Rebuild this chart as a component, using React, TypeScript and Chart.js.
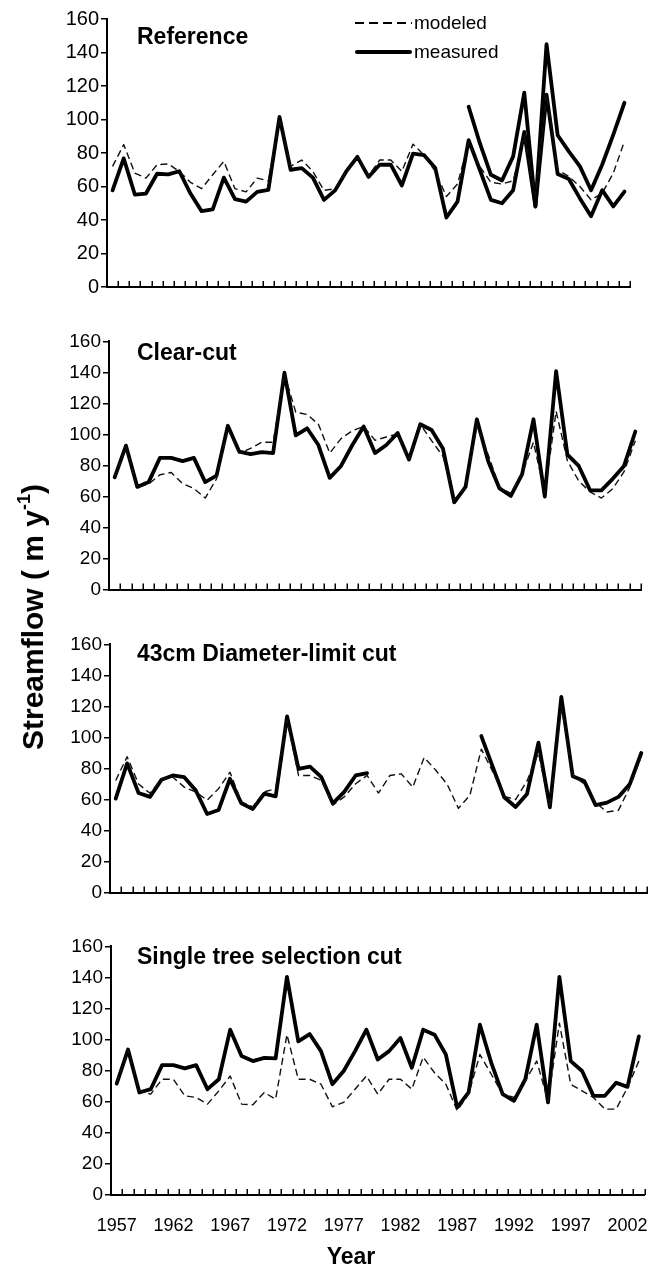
import React, { useEffect, useRef } from "react";
import { Chart, registerables } from "chart.js";

Chart.register(...registerables);

const years = [
  "1957", "1958", "1959", "1960", "1961", "1962", "1963", "1964", "1965", "1966",
  "1967", "1968", "1969", "1970", "1971", "1972", "1973", "1974", "1975", "1976",
  "1977", "1978", "1979", "1980", "1981", "1982", "1983", "1984", "1985", "1986",
  "1987", "1988", "1989", "1990", "1991", "1992", "1993", "1994", "1995", "1996",
  "1997", "1998", "1999", "2000", "2001", "2002", "2003",
];
const labeledYears = ["1957", "1962", "1967", "1972", "1977", "1982", "1987", "1992", "1997", "2002"];
const yTicks = [0, 20, 40, 60, 80, 100, 120, 140, 160];

const refModeled = [72, 85, 68, 65, 73, 73.5, 69, 62.5, 58.7, 67, 75, 58.7, 56.8, 65, 63.4, 100.6, 72, 75.8, 69, 57.7, 58.7, 69, 77.7, 66.3, 75.8, 75.8, 69, 85.3, 78.7, 69, 54, 61.5, 86.3, 72, 62.5, 61.5, 63.4, 90, 55, 115, 70, 66, 60, 52, 56, 68, 87];
const refMeasured = [57.7, 76.8, 55.2, 55.8, 67.6, 67.2, 69.1, 55.8, 45.3, 46.3, 65.3, 52.4, 51, 56.8, 58, 101.5, 70, 71, 65.3, 52, 57.7, 69, 77.7, 65.7, 73, 73, 60.6, 79.6, 78.7, 71, 41.5, 51, 87.7, 70, 52, 50, 57.8, 92.6, 48.1, 114.8, 67.4, 64.5, 52.9, 42.3, 57.8, 48.1, 57];
const refMeasuredB = [null, null, null, null, null, null, null, null, null, null, null, null, null, null, null, null, null, null, null, null, null, null, null, null, null, null, null, null, null, null, null, null, 107.6, 86, 67, 63.6, 78, 116, 48, 145, 90.6, 81, 72, 57.8, 73, 91, 110];

const ccModeled = [72, 92, 66, 68, 74, 75.5, 68.3, 65.2, 59, 71.4, 104, 88, 91, 95, 95, 139, 114.3, 112.9, 106.6, 88, 97.3, 102.5, 105.2, 96.3, 98.4, 100.4, 83.8, 106.6, 96, 86, 58, 66, 105.6, 87, 66, 62, 74.5, 95, 62, 115, 83, 70, 63, 59, 65, 76, 96];
const ccMeasured = [72.4, 92.8, 66.2, 69.3, 84.9, 84.9, 82.8, 84.9, 69.3, 73.5, 105.6, 89, 87.4, 88.6, 88, 139.8, 99.4, 104, 93.2, 72, 79.7, 93.2, 105.2, 88, 93.2, 101, 83.8, 106.6, 102.9, 91, 56.3, 66.2, 109.8, 82.8, 65.2, 60.4, 74.5, 109.8, 60, 140.8, 87, 79.7, 64, 64, 71.4, 79.7, 101.9];

const dlModeled = [72.3, 87.6, 70, 64, 73.4, 74.4, 68, 64.9, 59.6, 67, 77.6, 58.5, 55.3, 64.9, 67, 111.5, 75.5, 75.5, 72.3, 56.4, 61.7, 70.2, 75.5, 64.2, 75.5, 76.5, 68, 87.1, 79, 70, 54.3, 62.8, 92.5, 78, 62, 60, 72, 90, 55, 120, 76, 70, 58, 52, 53, 68, 88];
const dlMeasured = [60.6, 83.3, 64.2, 61.7, 72.7, 75.5, 74.4, 66, 50.7, 53.2, 73.4, 57.5, 53.9, 63.8, 62, 113.6, 79.7, 81.2, 74.4, 57.5, 64.9, 75.5, 77, null, null, null, null, null, null, null, null, null, 100.9, 81, 61.5, 55.2, 63.6, 96.7, 55, 126.2, 75, 72, 56.4, 58, 61.7, 70, 90];

const stModeled = [71.7, 93.6, 67, 64.9, 74.5, 74.5, 63.8, 62.8, 58.5, 67, 76.6, 58.5, 58.1, 66, 61.7, 103.2, 74.5, 74.5, 71.3, 56.8, 59.6, 68.1, 76.6, 64.9, 74.5, 74.5, 68.1, 88.7, 78.7, 71.3, 54.3, 64.9, 90.4, 77.7, 64.9, 62.8, 73.4, 86.2, 60.6, 110.6, 71.3, 67, 62.8, 55.3, 55.3, 69.1, 86.2];
const stMeasured = [71.7, 93.6, 66, 68.1, 83.6, 83.6, 81.5, 83.6, 68.1, 74.5, 106.4, 89.4, 86.2, 88.3, 87.9, 140.4, 98.9, 103.6, 92.6, 71.3, 79.8, 92.6, 106.4, 87.2, 92.6, 101, 81.9, 106.4, 103.2, 90.4, 56.4, 66, 109.6, 85.1, 64.9, 60.6, 74.5, 109.6, 59.6, 140.4, 86.2, 79.8, 63.8, 63.8, 72.3, 69.6, 102.1];

const panelTitles = ["Reference", "Clear-cut", "43cm Diameter-limit cut", "Single tree selection cut"];

const FONT = 'Arial, "Liberation Sans", sans-serif';

type Panel = {
  title: string;
  modeled: (number | null)[];
  measured: (number | null)[];
  measuredB?: (number | null)[];
  top: number;
  bottom: number;
  left: number;
  right: number;
  showX: boolean;
  titleY: number;
  tickSize: number;
};

const panels: Panel[] = [
  { title: panelTitles[0], modeled: refModeled, measured: refMeasured, measuredB: refMeasuredB, top: 17, bottom: 293, left: 107, right: 630, showX: false, titleY: 36, tickSize: 20 },
  { title: panelTitles[1], modeled: ccModeled, measured: ccMeasured, top: 340, bottom: 595, left: 109, right: 641, showX: false, titleY: 352, tickSize: 19 },
  { title: panelTitles[2], modeled: dlModeled, measured: dlMeasured, top: 643, bottom: 898, left: 110, right: 647, showX: false, titleY: 653, tickSize: 19 },
  { title: panelTitles[3], modeled: stModeled, measured: stMeasured, top: 945, bottom: 1195, left: 111, right: 645, showX: true, titleY: 956, tickSize: 19 },
];

const PAD_TOP = 12;

const innerTicks = {
  id: "innerTicks",
  afterDraw(chart: any) {
    const xs = chart.scales.x;
    const ctx = chart.ctx;
    const b = chart.chartArea.bottom;
    ctx.save();
    ctx.strokeStyle = "#000";
    ctx.lineWidth = 1.5;
    ctx.beginPath();
    for (let k = 1; k <= years.length; k++) {
      const x = Math.round(xs.getPixelForValue(k - 0.5)) + 0.25;
      ctx.moveTo(x, b);
      ctx.lineTo(x, b - 6);
    }
    ctx.stroke();
    ctx.restore();
  },
};

function PanelChart({ p }: { p: Panel }) {
  const ref = useRef<HTMLCanvasElement | null>(null);
  const hx = p.showX ? 50 : 8;
  const height = p.bottom - p.top + PAD_TOP + hx;
  useEffect(() => {
    if (!ref.current) return;
    const solid = {
      borderColor: "#000",
      borderWidth: 3.8,
      pointRadius: 0,
      tension: 0,
      spanGaps: false,
      borderJoinStyle: "round",
      borderCapStyle: "round",
    };
    const datasets: any[] = [
      {
        label: "modeled",
        data: p.modeled,
        borderColor: "#111",
        borderWidth: 1.4,
        borderDash: [7, 4],
        pointRadius: 0,
        tension: 0,
        spanGaps: false,
        borderJoinStyle: "round",
      },
      { label: "measured", data: p.measured, ...solid },
    ];
    if (p.measuredB) {
      datasets.push({ label: "measured ", data: p.measuredB, ...solid });
    }
    const chart = new Chart(ref.current, {
      type: "line",
      data: { labels: years, datasets },
      options: {
        animation: false,
        responsive: false,
        maintainAspectRatio: false,
        layout: { padding: { top: PAD_TOP, left: 0, right: 659 - p.right, bottom: 0 } },
        plugins: { legend: { display: false }, tooltip: { enabled: false } },
        scales: {
          x: {
            type: "category",
            offset: true,
            afterFit: (s: any) => {
              s.height = hx;
            },
            grid: { display: true, offset: true, drawOnChartArea: false, drawTicks: false },
            border: { display: true, color: "#000", width: 2 },
            ticks: {
              display: p.showX,
              autoSkip: false,
              maxRotation: 0,
              padding: 20,
              color: "#000",
              font: { family: FONT, size: 18 },
              callback: (_v: any, i: number) => (labeledYears.includes(years[i]) ? years[i] : ""),
            },
          },
          y: {
            min: 0,
            max: 160,
            afterFit: (s: any) => {
              s.width = p.left;
            },
            afterBuildTicks: (s: any) => {
              s.ticks = yTicks.map((v) => ({ value: v }));
            },
            grid: { drawOnChartArea: false, drawTicks: true, tickLength: 6, color: "#000", lineWidth: 1.5 },
            border: { display: true, color: "#000", width: 2 },
            ticks: {
              padding: 2,
              color: "#000",
              font: { family: FONT, size: p.tickSize },
            },
          },
        },
      },
      plugins: [innerTicks],
    } as any);
    return () => chart.destroy();
  }, []);
  return (
    <canvas
      ref={ref}
      width={659}
      height={height}
      style={{ position: "absolute", left: 0, top: p.top - PAD_TOP, width: 659, height }}
    />
  );
}

export default function App() {
  return (
    <div style={{ position: "absolute", left: 0, top: 0, width: 659, height: 1266, background: "#fff", fontFamily: FONT, color: "#000" }}>
      {panels.map((p, i) => (
        <PanelChart key={i} p={p} />
      ))}
      {panels.map((p, i) => (
        <div
          key={"t" + i}
          style={{ position: "absolute", left: 137, top: p.titleY - 13, lineHeight: "26px", fontSize: 23, fontWeight: "bold", whiteSpace: "nowrap" }}
        >
          {p.title}
        </div>
      ))}
      {/* legend */}
      <div style={{ position: "absolute", left: 355, top: 22, width: 57, height: 2, background: "repeating-linear-gradient(to right, #000 0 9px, transparent 9px 14px)" }} />
      <div style={{ position: "absolute", left: 414, top: 23 - 12, lineHeight: "24px", fontSize: 19, whiteSpace: "nowrap" }}>modeled</div>
      <div style={{ position: "absolute", left: 355, top: 50, width: 57, height: 4, background: "#000", borderRadius: 2 }} />
      <div style={{ position: "absolute", left: 414, top: 52 - 12, lineHeight: "24px", fontSize: 19, whiteSpace: "nowrap" }}>measured</div>
      {/* axis titles */}
      <div
        style={{
          position: "absolute",
          left: 33,
          top: 617,
          transform: "translate(-50%, -50%) rotate(-90deg)",
          fontSize: 30,
          fontWeight: "bold",
          whiteSpace: "nowrap",
          lineHeight: "34px",
        }}
      >
        Streamflow ( m y<sup style={{ fontSize: 18, verticalAlign: "0.7em", lineHeight: 0 }}>-1</sup>)
      </div>
      <div style={{ position: "absolute", left: 351, top: 1256, transform: "translate(-50%, -50%)", fontSize: 23, fontWeight: "bold", whiteSpace: "nowrap" }}>
        Year
      </div>
    </div>
  );
}
